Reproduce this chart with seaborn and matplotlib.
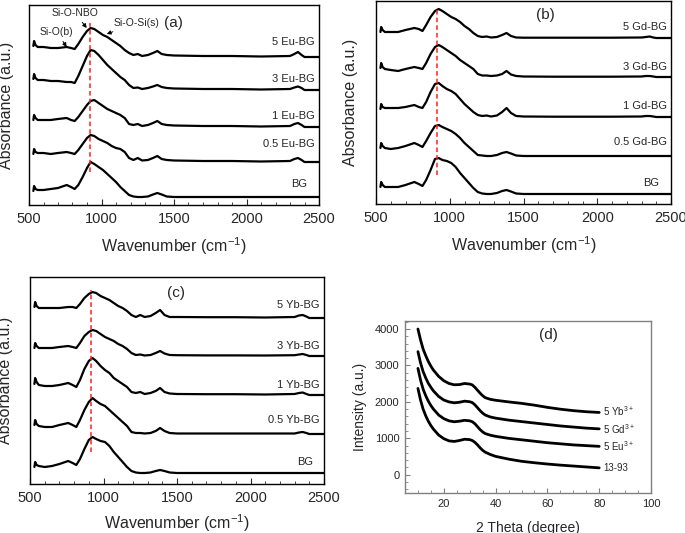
import numpy as np
import pandas as pd
import matplotlib
matplotlib.use("Agg")
import matplotlib.pyplot as plt
from matplotlib.ticker import MultipleLocator
import seaborn as sns

# ---------------- data ----------------
wavenumber = [530, 535, 545, 560, 600, 650, 700, 760, 790, 815, 840, 870, 900, 925, 950,
              980, 1010, 1040, 1070, 1100, 1130, 1160, 1190, 1220, 1250, 1280, 1320, 1355,
              1385, 1415, 1450, 1500, 1700, 1900, 2100, 2300, 2330, 2355, 2380, 2400, 2500]

# panel (a): Eu-doped glasses (absorbance above each trace's baseline, a.u.)
eu_labels = ["BG", "0.5 Eu-BG", "1 Eu-BG", "3 Eu-BG", "5 Eu-BG"]
eu_offsets = [8, 43, 78, 115, 148]
eu_bg = [6, 11, 8, 7, 7, 8, 9, 12, 10, 8, 12, 20, 29, 35, 33, 30, 27, 23, 19, 15, 10, 6, 2, 0.5, 0, 0,
         0.5, 2.5, 4, 2.5, 0.5, 0, 0, 0, 0, 0, 0, 0, 0, 0, 0]
eu_05 = [8, 13, 10, 9, 9, 8, 9, 10, 9, 8, 12, 18, 24, 27, 26, 23, 21, 19, 16, 14, 13, 10, 4, 2, 4, 1.5,
         2, 4, 6, 3, 2, 1.5, 1, 1, 0.5, 1, 3, 4, 2, 0, 0]
eu_1 = [7, 12, 9, 7, 7, 7, 8, 9, 7, 6, 10, 16, 22, 26, 27, 24, 21, 18, 16, 14, 12, 9, 3, 2, 3, 1,
        2, 4, 6, 3, 2, 1.5, 1, 1, 0.5, 1, 3, 4, 2, 0, 0]
eu_3 = [11, 16, 12, 10, 10, 9, 9, 8, 8, 7, 14, 24, 34, 40, 39, 35, 30, 25, 21, 17, 13, 10, 5, 2, 2.5, 1,
        2, 3.5, 5, 3, 2, 1.5, 1, 1, 0.5, 1, 2.5, 3.5, 2, 0, 0]
eu_5 = [11, 16, 12, 10, 10, 9, 9, 10, 9, 8, 13, 20, 26, 29, 28, 25, 22, 20, 17, 14, 11, 7, 4, 2, 3, 1,
        2, 4, 6, 3, 2, 1.5, 1, 1, 0.5, 1, 3, 5, 2, 0, 0]

# panel (b): Gd-doped glasses
gd_labels = ["BG", "0.5 Gd-BG", "1 Gd-BG", "3 Gd-BG", "5 Gd-BG"]
gd_offsets = [10, 48, 87, 127, 166]
gd_bg = [7, 12, 9, 7, 7, 7, 9, 12, 10, 8, 14, 24, 35, 36, 34, 33, 31, 27, 21, 16, 11, 6, 2, 0.5, 0, 0,
         1, 3, 4, 2.5, 0.5, 0, 0, 0, 0, 0, 0, 0, 0, 0, 0]
gd_05 = [8, 13, 10, 8, 7, 8, 10, 13, 11, 9, 15, 23, 30, 31, 29, 27, 25, 22, 18, 13, 9, 5, 1, 0.5, 0, 0,
         1, 3, 4, 2.5, 0.5, 0, 0, 0, 0, 0, 0, 0, 0, 0, 0]
gd_1 = [8, 13, 10, 9, 9, 9, 10, 12, 10, 9, 15, 25, 33, 34, 31, 28, 26, 23, 18, 13, 9, 5, 2, 1, 1.5, 0.5,
        1.5, 5, 9, 4, 1, 0.5, 0.3, 0.3, 0.3, 0.5, 1, 1, 0.5, 0, 0]
gd_3 = [9, 14, 10, 8, 7, 6, 8, 10, 9, 8, 14, 23, 30, 32, 30, 27, 24, 21, 17, 14, 11, 8, 3, 1.5, 1.5, 1,
        1.5, 3, 6, 2.5, 1, 0.5, 0.3, 0.3, 0.3, 0.5, 1, 1, 0.5, 0, 0]
gd_5 = [6, 11, 8, 6, 6, 6, 8, 10, 9, 7, 13, 21, 27, 29, 27, 24, 21, 19, 16, 12, 9, 5, 2, 1, 1.5, 0.5,
        1, 3, 5, 2, 0.5, 0.3, 0.3, 0.3, 0.3, 0.5, 1, 1.5, 0.5, 0, 0]

# panel (c): Yb-doped glasses
yb_labels = ["BG", "0.5 Yb-BG", "1 Yb-BG", "3 Yb-BG", "5 Yb-BG"]
yb_offsets = [11, 50, 89, 128, 166]
yb_bg = [6, 11, 8, 7, 6, 7, 9, 12, 10, 8, 14, 24, 33, 36, 34, 32, 31, 27, 21, 16, 11, 6, 2, 0.5, 0, 0,
         0.5, 2, 3, 2, 0.5, 0, 0, 0, 0, 0, 0, 0, 0, 0, 0]
yb_05 = [9, 14, 10, 8, 7, 7, 9, 11, 9, 7, 14, 24, 32, 36, 33, 30, 28, 24, 20, 16, 12, 8, 2, 1, 1, 0.5,
         1, 3, 6, 3, 1, 0.5, 0.5, 0.5, 0.5, 0.5, 1.5, 2, 1, 0, 0]
yb_1 = [11, 17, 13, 10, 9, 9, 10, 12, 10, 8, 15, 26, 34, 37, 34, 29, 25, 22, 17, 14, 11, 8, 3, 2, 3, 1,
        2, 4, 7, 3, 1.5, 1, 0.8, 0.8, 0.5, 1, 2, 2.5, 1, 0, 0]
yb_3 = [8, 13, 10, 8, 8, 8, 9, 10, 9, 8, 13, 20, 24, 26, 25, 22, 19, 17, 15, 12, 10, 7, 3, 1, 1.5, 0.5,
        1, 3, 5, 2.5, 1, 0.8, 0.6, 0.6, 0.5, 0.8, 1.5, 2, 1, 0, 0]
yb_5 = [11, 16, 12, 10, 10, 10, 10, 11, 11, 10, 14, 20, 24, 26, 25, 22, 20, 18, 15, 12, 10, 7, 3, 1, 3, 1,
        2, 5, 8, 3, 1, 1, 0.8, 0.8, 0.5, 1, 2.5, 3, 1.5, 0, 0]

# panel (d): XRD patterns
two_theta = [10, 11, 12, 13, 14, 15, 16, 18, 20, 22, 24, 26, 28, 30, 31, 32, 33, 34, 35, 36,
             38, 40, 45, 50, 55, 60, 65, 70, 75, 80]
xrd_labels = ["13-93", "5 Eu$^{3+}$", "5 Gd$^{3+}$", "5 Yb$^{3+}$"]
xrd_1393 = [2370, 2050, 1800, 1620, 1470, 1350, 1250, 1090, 990, 930, 915, 940, 975, 965, 940, 890,
            820, 740, 670, 620, 555, 505, 430, 370, 330, 295, 265, 240, 215, 190]
xrd_eu = [2920, 2600, 2350, 2170, 2020, 1900, 1800, 1640, 1540, 1480, 1455, 1470, 1495, 1480, 1455,
          1400, 1320, 1240, 1175, 1130, 1085, 1055, 1000, 960, 920, 880, 850, 820, 800, 780]
xrd_gd = [3380, 3070, 2830, 2660, 2510, 2400, 2300, 2150, 2050, 2000, 1975, 1990, 2020, 2005, 1980,
          1920, 1840, 1760, 1690, 1640, 1585, 1555, 1500, 1460, 1420, 1380, 1340, 1310, 1280, 1260]
xrd_yb = [4000, 3700, 3450, 3270, 3110, 2980, 2870, 2700, 2580, 2505, 2470, 2475, 2505, 2490, 2465,
          2400, 2320, 2240, 2170, 2115, 2070, 2045, 2000, 1960, 1910, 1850, 1800, 1760, 1730, 1710]

# ---------------- style ----------------
sns.set_theme(style="white")
plt.rcParams["font.family"] = ["Liberation Sans", "DejaVu Sans"]
plt.rcParams["mathtext.default"] = "regular"
plt.rcParams["axes.linewidth"] = 1.0

fig = plt.figure(figsize=(6.85, 5.33), dpi=100)

def ftir_panel(rect, series, offsets, labels, ylim, label_pos, bg_right, panel_txt, panel_pos, dash,
               xlab_y, ylab_x):
    ax = fig.add_axes(rect)
    for vals, off, lab in zip(series, offsets, labels):
        df = pd.DataFrame({"wn": wavenumber, "A": np.array(vals, dtype=float) + off})
        sns.lineplot(data=df, x="wn", y="A", ax=ax, color="black", lw=1.6, sort=False)
    ax.set_xlim(500, 2500)
    ax.set_ylim(0, ylim)
    ax.set_yticks([])
    ax.xaxis.set_major_locator(MultipleLocator(500))
    ax.xaxis.set_minor_locator(MultipleLocator(100))
    ax.tick_params(axis="x", which="major", direction="in", length=4, width=0.8,
                   labelsize=10.5, pad=5, bottom=True, top=False)
    ax.tick_params(axis="x", which="minor", direction="in", length=2, width=0.6,
                   bottom=True, top=False)
    for s in ax.spines.values():
        s.set_color("black")
        s.set_linewidth(1.0)
    ax.set_xlabel("Wavenumber (cm$^{-1}$)", fontsize=11.5)
    ax.set_ylabel("Absorbance (a.u.)", fontsize=11.5)
    ax.xaxis.set_label_coords(0.5, xlab_y)
    ax.yaxis.set_label_coords(ylab_x, 0.5)
    for lab, ly in zip(labels, label_pos):
        x = bg_right if lab == "BG" else 2470
        ax.text(x, ly, lab, ha="right", va="center", fontsize=8)
    ax.text(panel_pos[0], panel_pos[1], panel_txt, ha="center", va="center", fontsize=11)
    ax.plot([dash[0], dash[0]], [dash[1], dash[2]], color="#ff2020", ls=(0, (3, 2)), lw=1.1)
    return ax

axa = ftir_panel([29 / 685, 1 - 205 / 533, 290 / 685, 200 / 533],
                 [eu_bg, eu_05, eu_1, eu_3, eu_5], eu_offsets, eu_labels, 200,
                 [21, 61, 89, 126, 163], 2418, "(a)", (1494, 182), (920, 33, 182), -0.15, -0.052)
arrow = dict(arrowstyle="-|>", color="black", lw=0.7, mutation_scale=6, shrinkA=1, shrinkB=0)
axa.annotate("Si-O(b)", xy=(760, 158), xytext=(691, 173), ha="center", va="center", fontsize=7.5,
             arrowprops=arrow)
axa.annotate("Si-O-NBO", xy=(898, 177), xytext=(817, 192), ha="center", va="center", fontsize=7.5,
             arrowprops=arrow)
axa.annotate("Si-O-Si(s)", xy=(1036, 171), xytext=(1243, 182), ha="center", va="center", fontsize=7.5,
             arrowprops=arrow)

axb = ftir_panel([376 / 685, 1 - 204 / 533, 295 / 685, 203 / 533],
                 [gd_bg, gd_05, gd_1, gd_3, gd_5], gd_offsets, gd_labels, 203,
                 [21, 62, 98, 137, 177], 2419, "(b)", (1646, 189), (913, 29, 194), -0.15, -0.061)

axc = ftir_panel([30 / 685, 1 - 484 / 533, 294 / 685, 207 / 533],
                 [yb_bg, yb_05, yb_1, yb_3, yb_5], yb_offsets, yb_labels, 207,
                 [22, 64, 99, 138, 179], 2425, "(c)", (1493, 191), (915, 32, 194), -0.135, -0.058)

# panel (d)
axd = fig.add_axes([405 / 685, 1 - 493 / 533, 246 / 685, 172 / 533])
for vals, lab in zip([xrd_1393, xrd_eu, xrd_gd, xrd_yb], xrd_labels):
    df = pd.DataFrame({"tt": two_theta, "I": vals})
    sns.lineplot(data=df, x="tt", y="I", ax=axd, color="black", lw=2.0, sort=False)
axd.set_xlim(5, 100)
axd.set_ylim(-500, 4220)
axd.xaxis.set_minor_locator(MultipleLocator(5))
axd.yaxis.set_major_locator(MultipleLocator(1000))
axd.yaxis.set_minor_locator(MultipleLocator(200))
axd.set_xticks([20, 40, 60, 80, 100])
axd.set_yticks([0, 1000, 2000, 3000, 4000])
axd.tick_params(which="both", direction="in", color="#808080", labelsize=8,
                bottom=True, left=True, top=False, right=False)
axd.tick_params(which="major", length=3.5, width=0.8, pad=4)
axd.tick_params(which="minor", length=2, width=0.6)
for s in axd.spines.values():
    s.set_color("#808080")
    s.set_linewidth(1.0)
axd.set_xlabel("2 Theta (degree)", fontsize=10)
axd.set_ylabel("Intensity (a.u.)", fontsize=10)
axd.xaxis.set_label_coords(0.5, -0.16)
axd.yaxis.set_label_coords(-0.155, 0.5)
for lab, ly in zip(xrd_labels, [192, 795, 1260, 1753]):
    axd.text(81.5, ly, lab, ha="left", va="center", fontsize=7)
axd.text(60.4, 3836, "(d)", ha="center", va="center", fontsize=11)

fig.savefig("out.png", dpi=100)
